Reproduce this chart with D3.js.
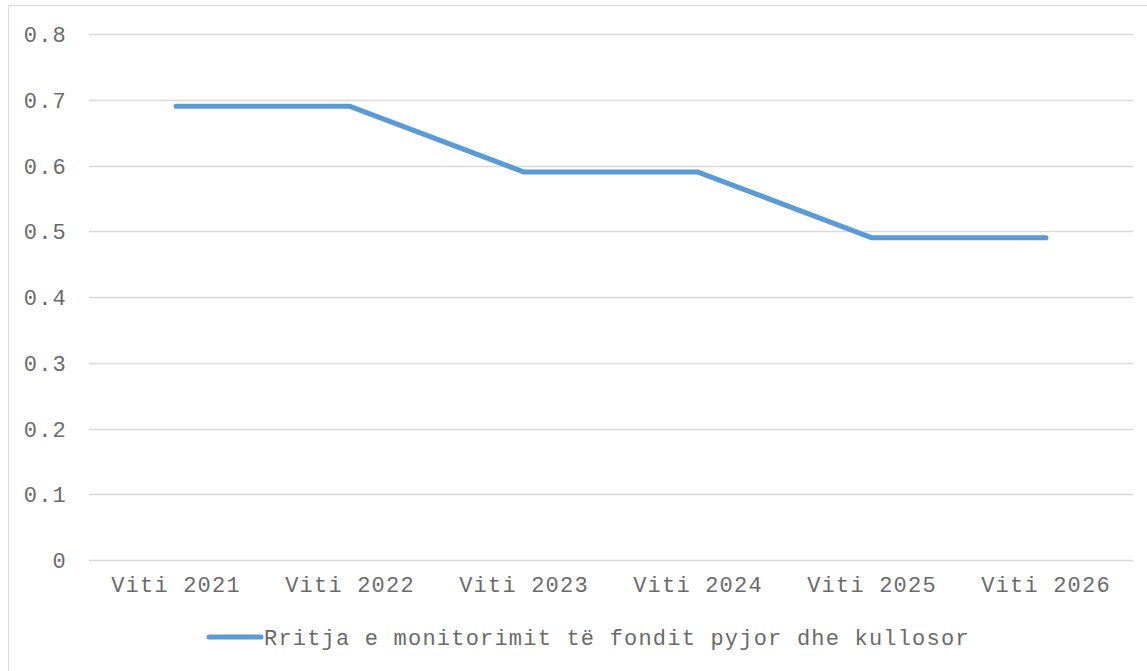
<!DOCTYPE html>
<html><head><meta charset="utf-8">
<script src="https://cdn.jsdelivr.net/npm/d3@7/dist/d3.min.js"></script>
<style>body{margin:0;background:#fff}svg{display:block}</style>
</head><body>
<svg id="c" width="1147" height="671"></svg>
<script>
const categories = ["Viti 2021","Viti 2022","Viti 2023","Viti 2024","Viti 2025","Viti 2026"];
const seriesName = "Rritja e monitorimit të fondit pyjor dhe kullosor";
const values = [0.69, 0.69, 0.59, 0.59, 0.49, 0.49];
const yTicks = [0, 0.1, 0.2, 0.3, 0.4, 0.5, 0.6, 0.7, 0.8];

const svg = d3.select("#c");
const W = 1147, H = 671;
const m = {left: 89, right: 14, top: 34, bottom: 111};
const font = "'Courier New', 'Nimbus Mono PS', 'FreeMono', 'Liberation Mono', monospace";
const textColor = "#6a6a6a";
const fs = 22, ls = 1.2;

// border
svg.append("path").attr("d", `M8.5,${H+2} V5.5 H${W+2}`)
  .attr("fill","none").attr("stroke","#d9d9d9").attr("stroke-width",1);

const x = d3.scaleBand().domain(categories).range([m.left, W - m.right]);
const y = d3.scaleLinear().domain([0, 0.8]).range([H - m.bottom, m.top]);

// gridlines
svg.append("g").selectAll("line").data(yTicks).join("line")
  .attr("x1", m.left).attr("x2", W - m.right)
  .attr("y1", d => Math.round(y(d)) + 0.5).attr("y2", d => Math.round(y(d)) + 0.5)
  .attr("stroke", "#d9d9d9").attr("stroke-width", 1.3);

// y axis labels
const yAxis = d3.axisLeft(y).tickValues(yTicks).tickSize(0).tickPadding(22)
  .tickFormat(d => d === 0 ? "0" : d3.format(".1f")(d));
const gy = svg.append("g").attr("transform", `translate(${m.left},0)`).call(yAxis);
gy.select(".domain").remove();
gy.selectAll("text").attr("font-family", font).attr("font-size", fs)
  .attr("letter-spacing", ls).attr("fill", textColor).attr("dy", "0.35em");

// x axis labels
const xAxis = d3.axisBottom(x).tickSize(0).tickPadding(16);
const gx = svg.append("g").attr("transform", `translate(0,${H - m.bottom})`).call(xAxis);
gx.select(".domain").remove();
gx.selectAll("text").attr("font-family", font).attr("font-size", fs)
  .attr("letter-spacing", ls).attr("fill", textColor);

// line
const line = d3.line().x((d, i) => x(categories[i]) + x.bandwidth() / 2).y(d => y(d));
svg.append("path").datum(values).attr("d", line)
  .attr("fill", "none").attr("stroke", "#5b9bd5").attr("stroke-width", 5)
  .attr("stroke-linejoin", "round").attr("stroke-linecap", "round");

// legend
const lg = svg.append("g");
lg.append("line").attr("x1", 209).attr("x2", 261).attr("y1", 637).attr("y2", 637)
  .attr("stroke", "#5b9bd5").attr("stroke-width", 5).attr("stroke-linecap", "round");
lg.append("text").attr("x", 264).attr("y", 637).attr("dy", "0.35em")
  .attr("font-family", font).attr("font-size", fs).attr("letter-spacing", ls)
  .attr("fill", textColor).text(seriesName);
</script>
</body></html>
